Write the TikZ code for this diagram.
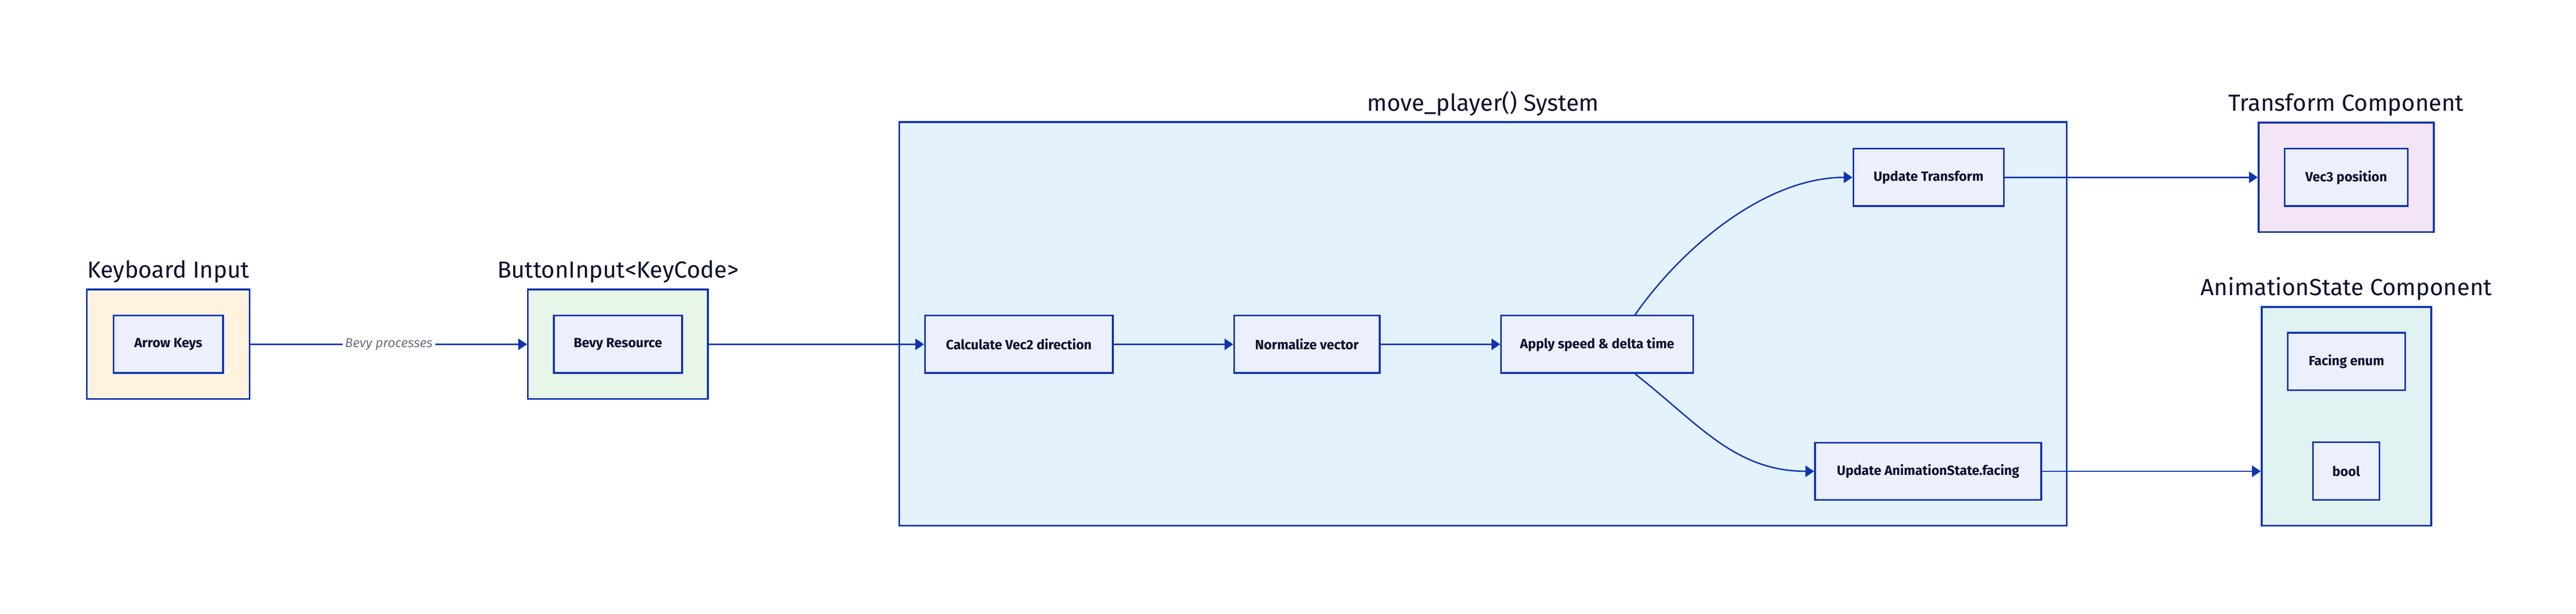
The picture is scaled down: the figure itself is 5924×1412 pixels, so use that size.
\documentclass[tikz,border=0pt]{standalone}
\usepackage{fontspec}
\setmainfont{Fira Sans}
\usetikzlibrary{positioning, arrows.meta}
\definecolor{edge}{HTML}{1034B0}
\definecolor{ink}{HTML}{0D1130}
\definecolor{kbdfill}{HTML}{FFF3E0}
\definecolor{btnfill}{HTML}{E8F5E9}
\definecolor{sysfill}{HTML}{E3F2FD}
\definecolor{trfill}{HTML}{F3E5F5}
\definecolor{anfill}{HTML}{E0F2F1}
\definecolor{infill}{HTML}{ECF0FC}
\definecolor{note}{HTML}{6B7280}

\begin{document}
\begin{tikzpicture}[x=0.25pt, y=0.25pt,
    grpbox/.style={draw=edge, line width=1pt, fill=#1, inner sep=0pt},
    itembox/.style={draw=edge, line width=1pt, fill=infill, text=ink, inner sep=0pt,
        minimum height=33pt, font=\fontsize{7.7pt}{9pt}\selectfont\bfseries},
    ttl/.style={anchor=base, text=ink, inner sep=0pt, font=\fontsize{13.4pt}{16pt}\selectfont},
    flow/.style={draw=edge, line width=0.8pt, -{Triangle[length=5pt,width=6.5pt]}}]
        \path[fill=white, use as bounding box] (0,0) rectangle (5924,1412);
        % input
        \node[grpbox=kbdfill, minimum width=93.5pt, minimum height=63pt] (kbd) at (387,620) {};
        \node[itembox, minimum width=63pt] (arrowkeys) at (kbd.center) {Arrow Keys};
        \node[ttl] (kbdT) at ([yshift=6.25pt]kbd.north) {Keyboard Input};
        \node[grpbox=btnfill, minimum width=103.5pt, minimum height=63pt] (btn) at (1421,620) {};
        \node[itembox, minimum width=73.75pt] (bevyres) at (btn.center) {Bevy Resource};
        \node[ttl] (btnT) at ([yshift=6.25pt]btn.north) {ButtonInput<KeyCode>};
        % system
        \node[grpbox=sysfill, minimum width=671.25pt, minimum height=232pt] (sys) at (3410.5,667) {};
        \node[ttl] (sysT) at ([yshift=6pt]sys.north) {move\_player() System};
        \node[itembox, minimum width=108pt] (calc) at (2343,620) {Calculate Vec2 direction};
        \node[itembox, minimum width=83.75pt] (norm) at (3005.5,620) {Normalize vector};
        \node[itembox, minimum width=110.5pt] (apply) at (3673,620) {Apply speed \& delta time};
        \node[itembox, minimum width=86.5pt] (uptrans) at (4435,1004) {Update Transform};
        \node[itembox, minimum width=130pt] (upanim) at (4434,328) {Update AnimationState.facing};
        % components
        \node[grpbox=trfill, minimum width=100.75pt, minimum height=63pt] (trans) at (5395.5,1004) {};
        \node[itembox, minimum width=70.75pt] (vecpos) at (trans.center) {Vec3 position};
        \node[ttl] (transT) at ([yshift=6.25pt]trans.north) {Transform Component};
        \node[grpbox=anfill, minimum width=97.5pt, minimum height=125.75pt] (anim) at (5396,454.5) {};
        \node[itembox, minimum width=67.5pt] (facing) at (5396,580.5) {Facing enum};
        \node[itembox, minimum width=38.25pt] (flag) at (5395.5,328.5) {bool};
        \node[ttl] (animT) at ([yshift=6.25pt]anim.north) {AnimationState Component};
        % connectors
        \draw[flow] (kbd) -- node[fill=white, text=note, inner sep=1.5pt,
            font=\fontsize{7.5pt}{9pt}\selectfont\itshape] {Bevy processes} (btn);
        \draw[flow] (btn) -- (calc);
        \draw[flow] (calc) -- (norm);
        \draw[flow] (norm) -- (apply);
        \draw[flow] (apply.38) to[out=55, in=180, looseness=0.85] (uptrans.west);
        \draw[flow] (apply.-38) to[out=-38, in=180] (upanim.west);
        \draw[flow] (uptrans) -- (trans);
        \draw[flow] (upanim) -- (upanim -| anim.west);
        %
\end{tikzpicture}
\end{document}
